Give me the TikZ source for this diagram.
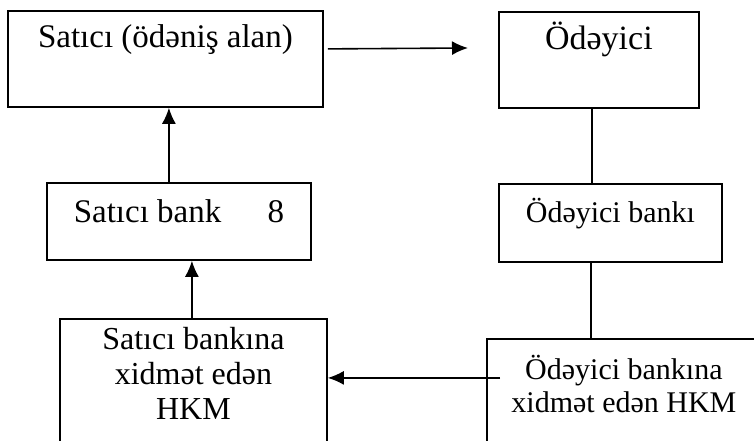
\documentclass[tikz,border=0pt]{standalone}
\usepackage{fontspec}
\setmainfont{Liberation Serif}
\usetikzlibrary{arrows.meta}

\begin{document}
\begin{tikzpicture}[
    x=1pt, y=1pt,
    blok/.style={draw, line width=1.8pt, inner sep=0pt, anchor=north west},
    yazi/.style={anchor=base, align=center, inner sep=0pt, font=\fontsize{32}{35}\selectfont},
    ox/.style={line width=1.6pt, -{Latex[length=16pt, width=14pt]}},
    xett/.style={line width=1.6pt}
]

    % Page frame (bottom boxes run off the page)
    \useasboundingbox (0, 0) rectangle (754, 441);
    \clip (0, 0) rectangle (754, 441);

    % Top row: seller and payer
    \node[blok, minimum width=315pt, minimum height=96pt] (satici) at (7, 431) {};
    \node[yazi, font=\fontsize{33}{36}\selectfont] (saticiyazi) at ([yshift=-38pt]satici.north) {Satıcı (ödəniş alan)};
    \node[blok, minimum width=200pt, minimum height=96pt] (odeyici) at (498, 430) {};
    \node[yazi, font=\fontsize{34}{36}\selectfont] (odeyiciyazi) at ([yshift=-39pt]odeyici.north) {Ödəyici};

    % Middle row: the banks
    \node[blok, minimum width=264pt, minimum height=77pt] (saticibank) at (46, 259) {};
    \node[yazi, font=\fontsize{33}{36}\selectfont] (saticibankyazi) at ([yshift=-41pt]saticibank.north) {Satıcı bank\hspace{1.4em}8};
    \node[blok, minimum width=223pt, minimum height=78pt] (odeyicibank) at (498, 258) {};
    \node[yazi, font=\fontsize{30}{33}\selectfont] (odeyicibankyazi) at ([yshift=-40pt]odeyicibank.north) {Ödəyici bankı};

    % Bottom row: settlement centres (base = last line)
    \node[blok, minimum width=267pt, minimum height=150pt] (saticihkm) at (59, 123) {};
    \node[yazi] (saticihkmyazi) at ([yshift=-102pt]saticihkm.north) {Satıcı bankına\\xidmət edən\\HKM};
    \node[blok, minimum width=274pt, minimum height=130pt] (odeyicihkm) at (486, 103) {};
    \node[yazi, font=\fontsize{30}{33}\selectfont] (odeyicihkmyazi) at ([yshift=-75pt]odeyicihkm.north) {Ödəyici bankına\\xidmət edən HKM};

    % Connectors
    \coordinate (ucu) at (468, 393);
    \draw[ox] ([xshift=4pt, yshift=10pt]satici.east) -- (ucu);
    \draw[ox] ([xshift=-10pt]saticibank.north) -- ([xshift=3.5pt]satici.south);
    \draw[ox] ([xshift=-1.5pt]saticihkm.north) -- ([xshift=13pt]saticibank.south);
    \draw[xett] ([xshift=-7pt]odeyici.south) -- ([xshift=-18.5pt]odeyicibank.north);
    \draw[xett] ([xshift=-19.5pt]odeyicibank.south) -- ([xshift=-33pt]odeyicihkm.north);
    \draw[ox] ([xshift=14pt, yshift=26pt]odeyicihkm.west) -- ([yshift=16pt]saticihkm.east);

\end{tikzpicture}
\end{document}
